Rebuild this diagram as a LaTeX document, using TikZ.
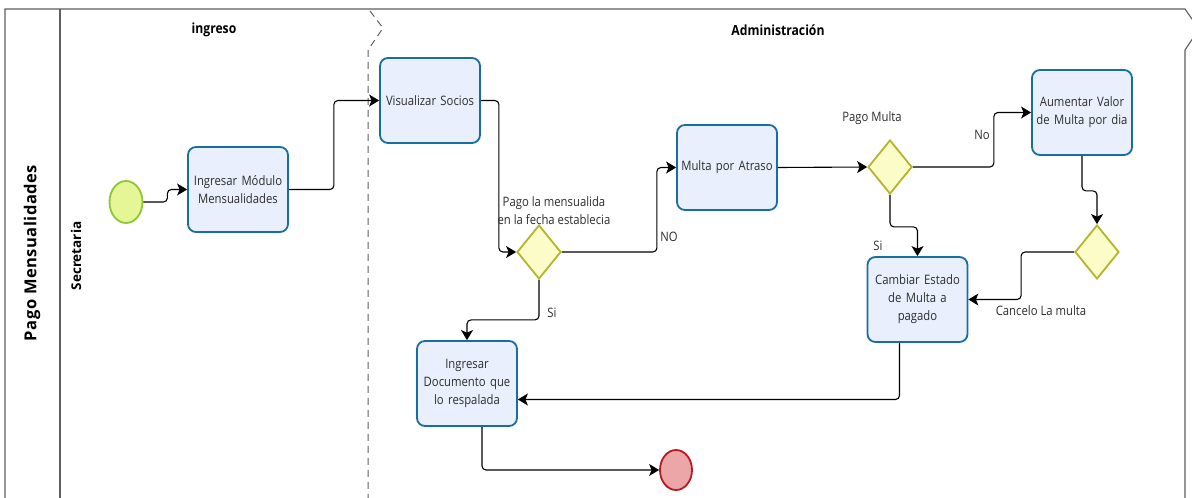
\documentclass[tikz,border=0pt]{standalone}
\usepackage{fontspec}
\setmainfont{Open Sans}[FakeStretch=0.87]
\newfontfamily\rotfont{Open Sans}[LetterSpace=3]
\newfontfamily\secfont{Open Sans}
\usetikzlibrary{shapes.geometric,arrows.meta,calc}
\definecolor{taskfill}{RGB}{233,239,252}
\definecolor{taskborder}{RGB}{25,110,160}
\definecolor{gwfill}{RGB}{252,252,200}
\definecolor{gwborder}{RGB}{180,180,45}
\definecolor{startfill}{RGB}{228,246,150}
\definecolor{startborder}{RGB}{140,200,50}
\definecolor{endfill}{RGB}{236,166,168}
\definecolor{endborder}{RGB}{185,25,35}
\definecolor{laneline}{RGB}{95,95,95}
\definecolor{txt}{RGB}{45,45,45}
\tikzset{
  task/.style={rectangle, rounded corners=8pt, minimum width=100pt, minimum height=85pt,
    draw=taskborder, line width=1.8pt, fill=taskfill, align=center, text width=92pt,
    inner sep=0pt, font=\fontsize{13}{18}\selectfont, text=txt},
  gateway/.style={diamond, minimum width=44pt, minimum height=54pt, inner sep=0pt,
    draw=gwborder, line width=1.8pt, fill=gwfill},
  startev/.style={ellipse, minimum width=33pt, minimum height=42pt, inner sep=0pt,
    draw=startborder, line width=1.8pt, fill=startfill},
  endev/.style={ellipse, minimum width=32pt, minimum height=40pt, inner sep=0pt,
    draw=endborder, line width=1.8pt, fill=endfill},
  flow/.style={draw=black, line width=1.1pt, rounded corners=4pt,
    -{Stealth[length=10pt,width=12pt,inset=2.5pt]}},
  lbl/.style={font=\fontsize{13}{18}\selectfont, text=txt, align=center, inner sep=0pt},
  hdr/.style={font=\fontsize{14}{17}\selectfont\bfseries, text=black, inner sep=0pt},
  lane/.style={draw=laneline, line width=1.1pt},
}
\begin{document}
\begin{tikzpicture}[x=1pt,y=-1pt]
\useasboundingbox (0,0) rectangle (1192,498);
\clip (0,0) rectangle (1192,498);
\fill[white] (0,0) rectangle (1192,498);
% pool frame
\draw[lane] (5,498) -- (5,9) -- (1185,9) -- (1199,29) -- (1185,50) -- (1185,498);
\draw[lane] (60,9) -- (60,498);
% lane separator (dashed chevron)
\draw[draw=laneline, line width=1pt, dash pattern=on 7pt off 5pt] (370,11) -- (383,28) -- (368,50) -- (368,498);
% labels of pool and lanes
\node[rotate=90, font=\rotfont\fontsize{16.5}{20}\selectfont\bfseries, inner sep=0pt] (pool) at (32,253) {Pago Mensualidades};
\node[rotate=90, font=\secfont\fontsize{13.5}{15}\selectfont\bfseries, inner sep=0pt] (lanesec) at (76,256) {Secretaria};
\node[hdr] (hing) at (214,30) {ingreso};
\node[hdr] (hadm) at (778,30) {Administración};
% events
\node[startev] (start) at (126,202) {};
\node[endev] (end) at (676,470) {};
% tasks
\node[task] (t1) at (238,189.5) {Ingresar Módulo\\Mensualidades};
\node[task] (t2) at (430,100.5) {Visualizar Socios};
\node[task] (t3) at (727,167.5) {Multa por Atraso};
\node[task] (t4) at (1082,112.5) {Aumentar Valor\\de Multa por dia};
\node[task] (t5) at (917.5,299.5) {Cambiar Estado\\de Multa a\\pagado};
\node[task] (t6) at (467,383.5) {Ingresar\\Documento que\\lo respalada};
% gateways
\node[gateway] (g1) at (539,252) {};
\node[gateway] (g2) at (890,167) {};
\node[gateway] (g3) at (1097,252) {};
% connectors
\draw[flow] (start.east) -- ++(24,0) |- (t1.west);
\draw[flow] (t1.east) -- ++(45,0) |- (t2.west);
\draw[flow] (t2.east) -- ++(18,0) |- (g1.west);
\draw[flow] (g1.east) -- ++(95,0) |- (t3.west);
\draw[flow] (g1.south) -- ++(0,40) -| (t6.north);
\draw[flow] (t3.east) -- (g2.west);
\draw[flow] (g2.east) -- ++(81,0) |- (t4.west);
\draw[flow] (t4.south) -- ++(0,35) -| (g3.north);
\draw[flow] (g2.south) -- ++(0,32) -| (t5.north);
\draw[flow] (g3.west) -- ++(-53,0) |- (t5.east);
\draw[flow] ($(t5.south)+(-18,0)$) |- ($(t6.east)+(0,16)$);
\draw[flow] ($(t6.south)+(15,0)$) |- (end.west);
% connector and gateway labels
\node[lbl] (lg1) at (554,211) {Pago la mensualida\\en la fecha establecia};
\node[lbl] (lno1) at (669,237) {NO};
\node[lbl] (lsi1) at (552,313) {Si};
\node[lbl] (lg2) at (872,118) {Pago Multa};
\node[lbl] (lno2) at (982,135) {No};
\node[lbl] (lsi2) at (878,246) {Si};
\node[lbl] (lcan) at (1041,311) {Cancelo La multa};
\end{tikzpicture}
\end{document}
